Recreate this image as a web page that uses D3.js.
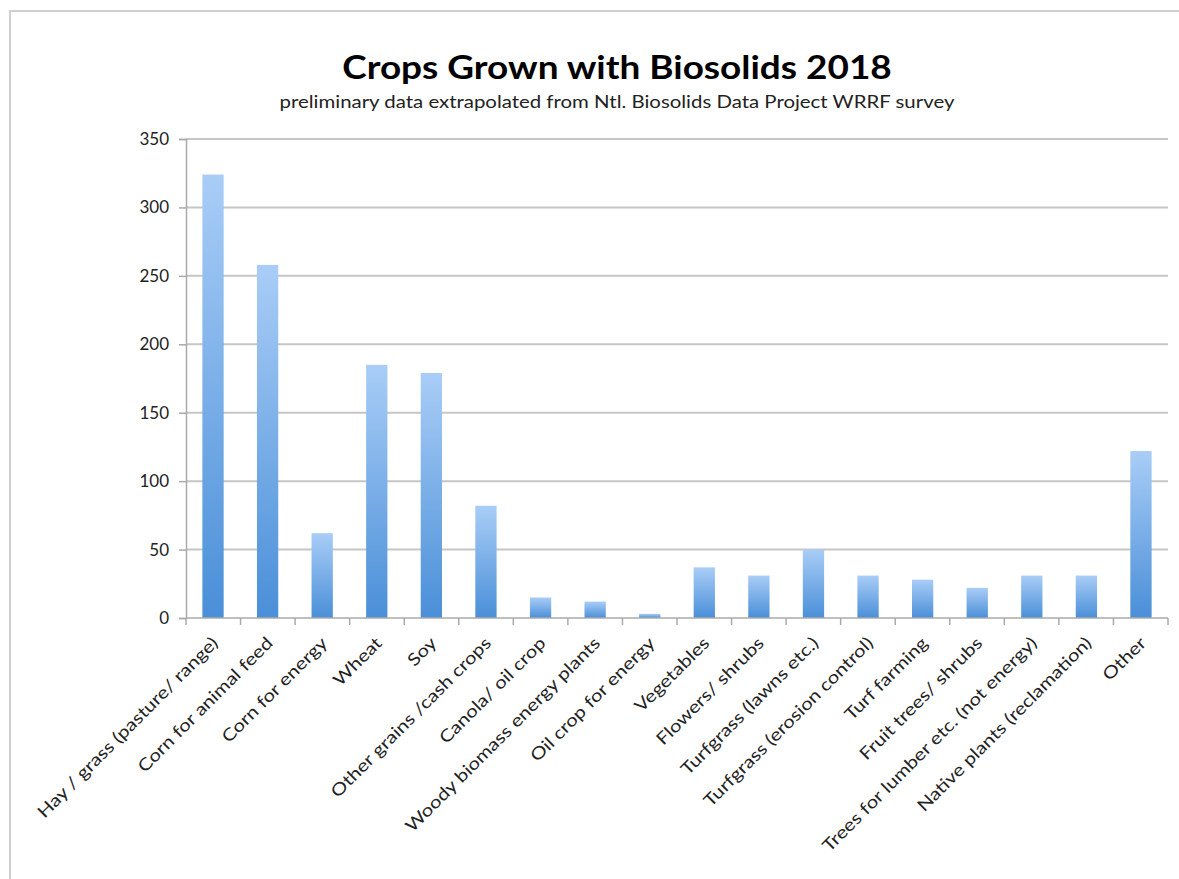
<!DOCTYPE html>
<html><head><meta charset="utf-8">
<script src="https://cdn.jsdelivr.net/npm/d3@7"></script>
<style>body{margin:0;background:#fff;} svg{display:block;font-family:Lato,"Open Sans",sans-serif;}</style>
</head><body>
<svg id="c" width="1179" height="879"></svg>
<script>
const categories = ["Hay / grass (pasture/ range)","Corn for animal feed","Corn for energy","Wheat","Soy","Other grains /cash crops","Canola/ oil crop","Woody biomass energy plants","Oil crop for energy","Vegetables","Flowers/ shrubs","Turfgrass  (lawns etc.)","Turfgrass (erosion control)","Turf farming","Fruit trees/ shrubs","Trees for lumber etc. (not energy)","Native plants (reclamation)","Other"];
const values = [324,258,62,185,179,82,15,12,3,37,31,50,31,28,22,31,31,122];
const yTicks = [0,50,100,150,200,250,300,350];
const title = "Crops Grown with Biosolids 2018";
const subtitle = "preliminary data extrapolated from Ntl. Biosolids Data Project WRRF survey";

const svg = d3.select("#c");
const m = {left:186, right:1168, top:139, bottom:618};

svg.append("rect").attr("x",10).attr("y",11).attr("width",1190).attr("height",900)
  .attr("fill","none").attr("stroke","#cfcfcf").attr("stroke-width",2);

const defs = svg.append("defs");
const g = defs.append("linearGradient").attr("id","bg").attr("x1",0).attr("y1",0).attr("x2",0).attr("y2",1);
g.append("stop").attr("offset","0%").attr("stop-color","#a9cdf7");
g.append("stop").attr("offset","100%").attr("stop-color","#4a8fd8");

const x = d3.scaleBand().domain(categories).range([m.left,m.right]).paddingInner(0.61).paddingOuter(0.3);
const y = d3.scaleLinear().domain([0,350]).range([m.bottom,m.top]);

// gridlines
svg.append("g").selectAll("line").data(yTicks.filter(d=>d>0)).join("line")
  .attr("x1",m.left).attr("x2",m.right).attr("y1",d=>y(d)).attr("y2",d=>y(d))
  .attr("stroke","#c6c6c6").attr("stroke-width",2);

// y axis
const ya = svg.append("g").attr("transform",`translate(${m.left},0)`)
  .call(d3.axisLeft(y).tickValues(yTicks).tickSize(7).tickPadding(10));
ya.select(".domain").attr("stroke","#aaa").attr("stroke-width",1.5);
ya.selectAll(".tick line").attr("stroke","#aaa").attr("stroke-width",1.5);
ya.selectAll(".tick text").attr("fill","#222").attr("font-size",17).attr("font-family","Lato,sans-serif");

// bars
svg.append("g").selectAll("rect").data(values).join("rect")
  .attr("x",(d,i)=>x(categories[i])).attr("width",x.bandwidth())
  .attr("y",d=>y(d)).attr("height",d=>y(0)-y(d)).attr("fill","url(#bg)");

// x axis
const n = categories.length;
const bounds = d3.range(n+1).map(i=>m.left+i*(m.right-m.left)/n);
svg.append("line").attr("x1",m.left).attr("x2",m.right).attr("y1",y(0)).attr("y2",y(0)).attr("stroke","#aaa").attr("stroke-width",1.5);
svg.append("g").selectAll("line").data(bounds).join("line")
  .attr("x1",d=>d).attr("x2",d=>d).attr("y1",y(0)).attr("y2",y(0)+7).attr("stroke","#aaa").attr("stroke-width",1.5);

svg.append("g").selectAll("text").data(categories).join("text")
  .attr("transform",d=>`translate(${x(d)+x.bandwidth()/2+2},${y(0)+22}) rotate(-45) scale(1.2,1)`)
  .attr("text-anchor","end").attr("dy","0.35em").attr("font-size",17).attr("fill","#222")
  .text(d=>d);

svg.append("text").attr("transform","translate(617,79) scale(1.12,1)").attr("text-anchor","middle")
  .attr("font-size",33).attr("font-weight","bold").attr("fill","#000").text(title);
svg.append("text").attr("transform","translate(617,108) scale(1.2,1)").attr("text-anchor","middle")
  .attr("font-size",17).attr("fill","#222").text(subtitle);
</script>
</body></html>
